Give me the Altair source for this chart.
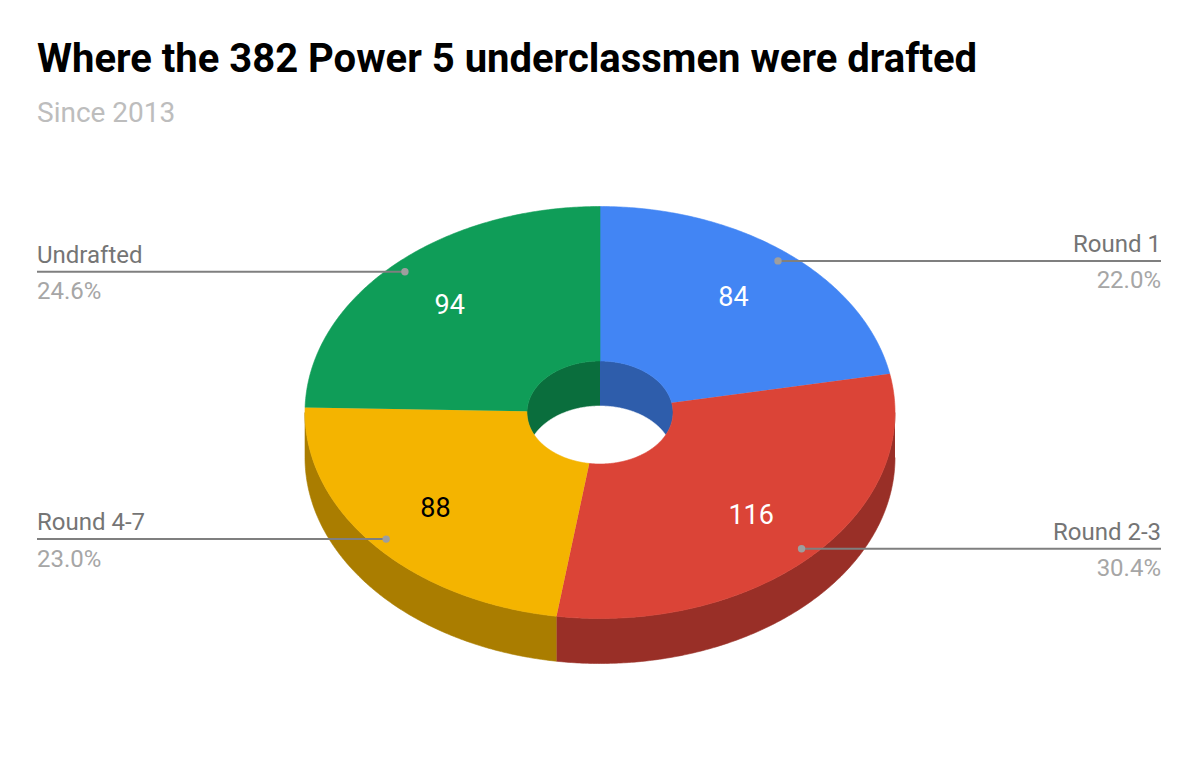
import math
import altair as alt
import pandas as pd

# ---- chart content ----
categories = ["Round 1", "Round 2-3", "Round 4-7", "Undrafted"]
values = [84, 116, 88, 94]
top_colors = ["#4285f4", "#db4437", "#f4b400", "#0f9d58"]
side_colors = ["#2e5dab", "#992f27", "#aa7d00", "#0a6e3d"]
value_text_colors = ["#ffffff", "#ffffff", "#000000", "#ffffff"]
title_text = "Where the 382 Power 5 underclassmen were drafted"
subtitle_text = "Since 2013"

# ---- page / ellipse geometry (pixel space of the 1200x768 picture) ----
W, H = 1184, 750
CX, CY, RX, RY = 600, 412.5, 295, 206
HOLE_RX, HOLE_RY = 73, 51.5
DEPTH = 45
LEFT_X, RIGHT_X = 37, 1161
total = sum(values)


def pt(deg, rx, ry, dy=0):
    a = math.radians(deg)
    return CX + rx * math.sin(a), CY + dy - ry * math.cos(a)


def arc(a0, a1, rx, ry, dy=0):
    n = max(2, int(abs(a1 - a0)) * 2)
    return [pt(a0 + (a1 - a0) * i / n, rx, ry, dy) for i in range(n + 1)]


spans, acc = [], 0.0
for v in values:
    spans.append((acc, acc + v / total * 360))
    acc += v / total * 360

outer_walls, faces = [], []
for i, (a0, a1) in enumerate(spans):
    lo, hi = max(a0, 90), min(a1, 270)
    if lo < hi:
        outer_walls.append((side_colors[i], arc(lo, hi, RX, RY) + arc(hi, lo, RX, RY, DEPTH)))
    faces.append((top_colors[i], arc(a0, a1, RX, RY) + arc(a1, a0, HOLE_RX, HOLE_RY)))

# inside of the hole: the slice at each side of the top boundary colours that half
hole_walls = [
    (side_colors[0], arc(0, 180, HOLE_RX, HOLE_RY)),
    (side_colors[-1], arc(180, 360, HOLE_RX, HOLE_RY)),
]
floor = [("#ffffff", arc(0, 360, HOLE_RX, HOLE_RY, DEPTH))]

x_scale = alt.Scale(domain=[8, 8 + W], range=[0, W])
y_scale = alt.Scale(domain=[8 + H, 8], range=[H, 0])


def X(name):
    return alt.X(f"{name}:Q", scale=x_scale, axis=None)


def Y(name):
    return alt.Y(f"{name}:Q", scale=y_scale, axis=None)


def polygon(color, points):
    df = pd.DataFrame(points, columns=["x", "y"]).reset_index()
    return alt.Chart(df).mark_line(fill=color, stroke=color, strokeWidth=0.6).encode(
        x=X("x"), y=Y("y"), order="index:Q"
    )


layers = [polygon(c, p) for c, p in outer_walls + hole_walls + floor + faces]

rows = []
for i, (a0, a1) in enumerate(spans):
    mid = (a0 + a1) / 2
    dx, dy = pt(mid, RX * 0.947, RY * 0.955)
    vx, vy = pt(mid, RX * 0.715, RY * 0.725)
    left = mid > 180
    rows.append(dict(
        cat=categories[i], val=str(values[i]), pct=f"{values[i] / total * 100:.1f}%",
        dx=dx, dy=dy, vx=vx - (3 if left else 1), vy=vy + 0.5, tcolor=value_text_colors[i],
        x0=LEFT_X if left else dx, x1=dx if left else RIGHT_X,
        lx=LEFT_X if left else RIGHT_X, align="left" if left else "right",
        name_y=dy - 9, pct_y=dy + 27.5,
    ))
lab = pd.DataFrame(rows)

layers.append(alt.Chart(lab).mark_rule(color="#7f7f7f", strokeWidth=2).encode(
    x=X("x0"), x2="x1:Q", y=Y("dy")))
layers.append(alt.Chart(lab).mark_point(filled=True, color="#9e9e9e", size=55, opacity=1).encode(
    x=X("dx"), y=Y("dy")))
layers.append(alt.Chart(lab).mark_text(font="Roboto", fontSize=27, baseline="middle").encode(
    x=X("vx"), y=Y("vy"), text="val:N", color=alt.Color("tcolor:N", scale=None)))
for side, d in lab.groupby("align"):
    layers.append(alt.Chart(d).mark_text(font="Roboto", fontSize=24, align=side, color="#757575",
                                         baseline="alphabetic").encode(
        x=X("lx"), y=Y("name_y"), text="cat:N"))
    layers.append(alt.Chart(d).mark_text(font="Roboto", fontSize=24, align=side, color="#a6a6a6",
                                         baseline="alphabetic").encode(
        x=X("lx"), y=Y("pct_y"), text="pct:N"))

heads = pd.DataFrame([dict(t=title_text, x=LEFT_X, y=72)])
subs = pd.DataFrame([dict(t=subtitle_text, x=LEFT_X, y=122)])
layers.append(alt.Chart(heads).mark_text(font="Roboto", fontSize=40, fontWeight="bold", align="left",
                                         color="#000000", baseline="alphabetic").encode(
    x=X("x"), y=Y("y"), text="t:N"))
layers.append(alt.Chart(subs).mark_text(font="Roboto", fontSize=28, align="left",
                                        color="#bdbdbd", baseline="alphabetic").encode(
    x=X("x"), y=Y("y"), text="t:N"))

chart = alt.layer(*layers).properties(
    width=W, height=H, padding=0, autosize=alt.AutoSizeParams(type="none"), background="#ffffff"
).configure_view(stroke=None)

chart.save("out.html", embed_options={"renderer": "svg", "actions": False})
